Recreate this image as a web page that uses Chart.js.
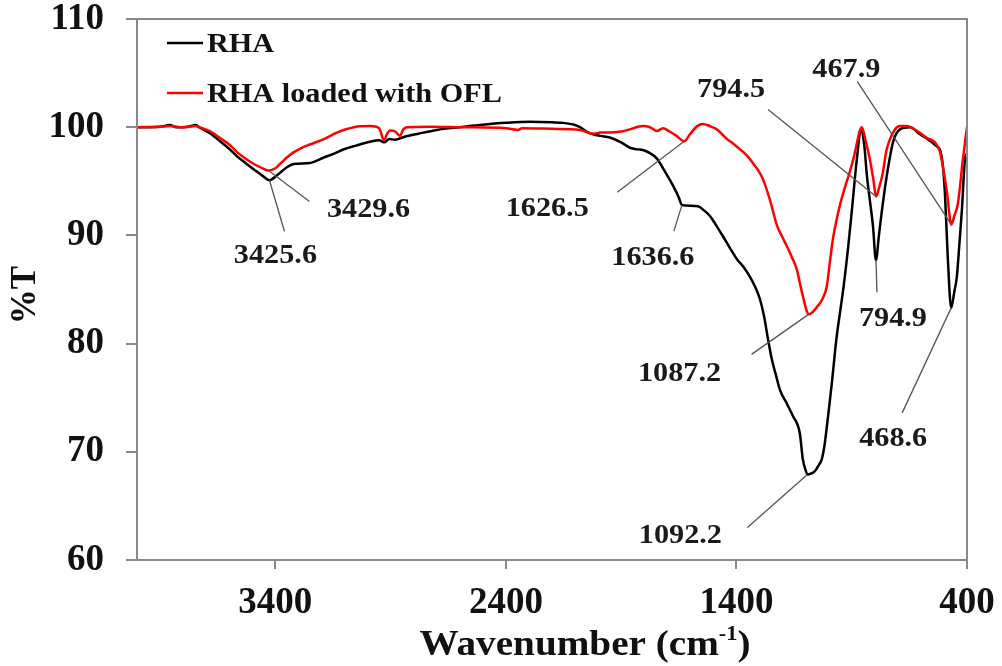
<!DOCTYPE html>
<html>
<head>
    <title>FTIR spectra</title>
    <script src="https://cdn.jsdelivr.net/npm/chart.js"></script>
    <style>
        body { margin: 0; background: #fff; }
        .chart-container { width: 1002px; height: 666px; }
    </style>
</head>
<body>
    <div class="chart-container">
        <canvas id="chartjs" width="1002" height="666"></canvas>
    </div>

    <script>
        // RHA spectrum: wavenumber (cm-1) and %T
        const rhaWave = [4000, 3900, 3857, 3830, 3780, 3744, 3731, 3680, 3640, 3600, 3566, 3530, 3493, 3455, 3425.6,
            3390, 3350, 3320, 3250, 3189, 3140, 3102, 3050, 2989, 2950, 2929, 2905, 2880, 2842, 2780, 2699, 2600,
            2512, 2400, 2296, 2200, 2152, 2100, 2079, 2050, 2022, 1990, 1949, 1900, 1862, 1830, 1806, 1775, 1745,
            1710, 1675, 1650, 1636.6, 1600, 1567, 1540, 1515, 1490, 1458, 1430, 1398, 1370, 1342, 1320, 1298, 1280,
            1263, 1246, 1230, 1211, 1180, 1155, 1125, 1112, 1100, 1092.2, 1075, 1060, 1045, 1030, 1018, 1008, 997,
            986, 966, 950, 935, 915, 899, 878, 860, 845, 834, 821, 808, 794.9, 782, 769, 748, 721, 691, 648, 604,
            570, 552, 530, 517, 505, 496, 483, 468.6, 455, 444, 432, 422, 409, 400];
        const rhaT = [100.0, 100.05, 100.2, 100.0, 100.05, 100.2, 100.0, 99.4, 98.7, 98.0, 97.3, 96.7, 96.1, 95.5, 95.1,
            95.6, 96.3, 96.6, 96.7, 97.2, 97.6, 97.96, 98.3, 98.65, 98.8, 98.6, 98.9, 98.85, 99.1, 99.4, 99.75, 100.0,
            100.2, 100.4, 100.5, 100.45, 100.4, 100.2, 100.0, 99.6, 99.35, 99.2, 99.05, 98.6, 98.1, 97.95, 97.9, 97.6, 97.1,
            95.9, 94.6, 93.5, 92.8, 92.75, 92.7, 92.3, 91.8, 91.0, 89.9, 88.9, 87.8, 87.1, 86.2, 85.3, 84.1, 82.5,
            80.4, 78.5, 77.2, 75.7, 74.4, 73.3, 71.7, 69.3, 68.3, 67.9, 68.0, 68.2, 68.7, 69.3, 70.6, 72.3, 74.3,
            76.4, 80.5, 83.0, 85.3, 89.0, 92.4, 97.0, 99.8, 98.2, 95.5, 93.2, 90.9, 87.7, 90.0, 92.3, 95.5, 98.6, 99.8, 100.0, 99.35,
            98.9, 98.6, 98.2, 97.9, 96.5, 94.0, 87.8, 83.3, 84.8, 86.2, 89.5, 92.4, 97.0, 97.6];

        // RHA loaded with OFL
        const oflWave = [4000, 3900, 3857, 3800, 3744, 3731, 3680, 3640, 3600, 3566, 3530, 3493, 3455, 3429.6, 3400,
            3380, 3350, 3320, 3285, 3250, 3189, 3133, 3059, 2989, 2950, 2929, 2915, 2903, 2880, 2860, 2845, 2829,
            2729, 2600, 2400, 2348, 2330, 2200, 2079, 2022, 1990, 1949, 1900, 1862, 1806, 1775, 1745, 1719, 1690,
            1660, 1626.5, 1600, 1570, 1545, 1515, 1485, 1460, 1441, 1415, 1385, 1355, 1329, 1305, 1285, 1255, 1224,
            1200, 1181, 1160, 1138, 1125, 1112, 1095, 1087.2, 1070, 1050, 1030, 1008, 995, 982, 966, 951, 930, 908,
            890, 878, 866, 856, 840, 821, 805, 794.5, 780, 765, 750, 734, 712, 691, 661, 617, 574, 539, 517, 500, 487, 467.9,
            455, 439, 418, 400];
        const oflT = [100.0, 100.05, 100.1, 100.0, 100.1, 100.0, 99.6, 99.0, 98.4, 97.7, 97.1, 96.6, 96.2, 96.0, 96.2,
            96.6, 97.2, 97.7, 98.1, 98.4, 98.9, 99.5, 100.0, 100.1, 99.9, 98.8, 99.4, 99.7, 99.6, 99.2, 99.8, 100.0,
            100.05, 100.0, 99.9, 99.75, 99.9, 99.85, 99.75, 99.4, 99.5, 99.5, 99.6, 99.8, 100.1, 100.0, 99.66, 99.9, 99.6,
            99.2, 98.7, 99.4, 100.1, 100.3, 100.1, 99.8, 99.3, 98.9, 98.5, 97.96, 97.4, 96.7, 96.0, 95.2, 93.3, 90.9,
            89.8, 89.0, 88.0, 86.85, 85.6, 84.4, 83.0, 82.7, 82.9, 83.4, 84.0, 85.3, 87.5, 89.6, 91.4, 92.8, 94.4, 95.9,
            97.3, 98.5, 99.6, 100.0, 98.8, 97.0, 95.0, 93.6, 94.5, 95.8, 97.8, 98.9, 99.8, 100.1, 100.1, 99.66, 99.0, 98.6, 97.7, 95.8, 94.0, 91.0,
            91.8, 93.0, 97.0, 100.0];

        const xTicks = [400, 1400, 2400, 3400];
        const yTicks = [60, 70, 80, 90, 100, 110];
        const seriesNames = ['RHA', 'RHA loaded with OFL'];

        // Peak labels: which series, peak wavenumber, leader line end and label centre (px offsets from the peak)
        const peakLabels = [
            { ds: 0, wave: 3425.6, line: [15, 51], text: [6, 76] },
            { ds: 1, wave: 3429.6, line: [41, 31], text: [100, 40] },
            { ds: 1, wave: 1626.5, line: [-67, 51], text: [-137, 68] },
            { ds: 0, wave: 1636.6, line: [-8, 26], text: [-29, 53] },
            { ds: 1, wave: 1087.2, line: [-57, 40], text: [-129, 60] },
            { ds: 0, wave: 1092.2, line: [-60, 53], text: [-127, 62] },
            { ds: 1, wave: 794.5, line: [-108, -87], text: [-145, -106] },
            { ds: 0, wave: 794.9, line: [1, 32], text: [17, 59] },
            { ds: 1, wave: 467.9, line: [-94, -143], text: [-105, -155] },
            { ds: 0, wave: 468.6, line: [-49, 105], text: [-58, 131] }
        ];

        const serif = "'Liberation Serif', 'Times New Roman', serif";
        const axisGray = '#8a8a8a';
        const stretch = 1.12; // text in this figure is set a little wide

        const toPoints = (xs, ys) => xs.map((x, i) => ({ x: x, y: ys[i] }));

        function wideText(ctx, text, x, y) {
            ctx.save();
            ctx.translate(x, y);
            ctx.scale(stretch, 1);
            ctx.fillText(text, 0, 0);
            ctx.restore();
        }

        // frame, legend, axis titles and peak labels
        const decorPlugin = {
            id: 'decor',
            afterDraw: (chart) => {
                const ctx = chart.ctx;
                const area = chart.chartArea;
                const xs = chart.scales.x;
                const ys = chart.scales.y;

                ctx.save();
                ctx.strokeStyle = axisGray;
                ctx.lineWidth = 2;
                ctx.strokeRect(area.left, area.top, area.right - area.left, area.bottom - area.top);

                // legend
                ctx.font = 'bold 27px ' + serif;
                ctx.textBaseline = 'middle';
                ctx.textAlign = 'left';
                chart.data.datasets.forEach((ds, i) => {
                    const y = area.top + 24 + i * 50;
                    ctx.strokeStyle = ds.borderColor;
                    ctx.lineWidth = 2.5;
                    ctx.beginPath();
                    ctx.moveTo(area.left + 30, y);
                    ctx.lineTo(area.left + 66, y);
                    ctx.stroke();
                    ctx.fillStyle = '#111';
                    wideText(ctx, ds.label, area.left + 70, y + 2);
                });

                // peak labels with leader lines
                peakLabels.forEach(p => {
                    const data = chart.data.datasets[p.ds].data;
                    const pt = data.find(d => d.x === p.wave);
                    const px = xs.getPixelForValue(pt.x);
                    const py = ys.getPixelForValue(pt.y);
                    ctx.strokeStyle = '#555';
                    ctx.lineWidth = 1.3;
                    ctx.beginPath();
                    ctx.moveTo(px, py);
                    ctx.lineTo(px + p.line[0], py + p.line[1]);
                    ctx.stroke();
                    ctx.fillStyle = '#1a1a1a';
                    ctx.font = 'bold 27px ' + serif;
                    ctx.textAlign = 'center';
                    wideText(ctx, p.wave.toFixed(1), px + p.text[0], py + p.text[1]);
                });

                // axis titles
                ctx.fillStyle = '#111';
                ctx.textAlign = 'left';
                ctx.textBaseline = 'alphabetic';
                const main = 'Wavenumber (cm';
                const sup = '-1';
                ctx.font = 'bold 35px ' + serif;
                const wMain = ctx.measureText(main).width * stretch;
                ctx.font = 'bold 20px ' + serif;
                const wSup = ctx.measureText(sup).width * stretch;
                ctx.font = 'bold 35px ' + serif;
                const wClose = ctx.measureText(')').width * stretch;
                let tx = 585 - (wMain + wSup + wClose) / 2;
                const ty = 655;
                wideText(ctx, main, tx, ty);
                tx += wMain;
                ctx.font = 'bold 20px ' + serif;
                wideText(ctx, sup, tx, ty - 15);
                tx += wSup;
                ctx.font = 'bold 35px ' + serif;
                wideText(ctx, ')', tx, ty);

                ctx.translate(26, 295);
                ctx.rotate(-Math.PI / 2);
                ctx.textAlign = 'center';
                ctx.textBaseline = 'middle';
                ctx.fillText('%T', 0, 0);
                ctx.restore();
            }
        };

        const ctx = document.getElementById('chartjs').getContext('2d');

        new Chart(ctx, {
            type: 'line',
            data: {
                datasets: [{
                    label: seriesNames[0],
                    data: toPoints(rhaWave, rhaT),
                    borderColor: '#000000',
                    borderWidth: 2.5,
                    pointRadius: 0,
                    cubicInterpolationMode: 'monotone',
                    order: 1
                },
                {
                    label: seriesNames[1],
                    data: toPoints(oflWave, oflT),
                    borderColor: '#ff0000',
                    borderWidth: 2.5,
                    pointRadius: 0,
                    cubicInterpolationMode: 'monotone',
                    order: 0
                }]
            },
            plugins: [decorPlugin],
            options: {
                responsive: false,
                animation: false,
                layout: {
                    padding: { top: 19, right: 35, left: 0, bottom: 0 }
                },
                scales: {
                    x: {
                        type: 'linear',
                        reverse: true,
                        min: 400,
                        max: 4000,
                        afterBuildTicks: (axis) => {
                            axis.ticks = xTicks.map(v => ({ value: v }));
                        },
                        afterFit: (axis) => {
                            axis.height = 106;
                            axis.paddingLeft = 0;
                            axis.paddingRight = 0;
                        },
                        ticks: {
                            color: '#111',
                            padding: 12,
                            maxRotation: 0,
                            font: { family: serif, size: 37, weight: 'bold' },
                            callback: (value) => String(value)
                        },
                        grid: {
                            drawOnChartArea: false,
                            tickLength: 9,
                            color: axisGray,
                            lineWidth: 2
                        },
                        border: { color: axisGray, width: 2 }
                    },
                    y: {
                        min: 60,
                        max: 110,
                        afterBuildTicks: (axis) => {
                            axis.ticks = yTicks.map(v => ({ value: v }));
                        },
                        afterFit: (axis) => {
                            axis.width = 137;
                            axis.paddingTop = 0;
                            axis.paddingBottom = 0;
                        },
                        ticks: {
                            color: '#111',
                            padding: 22,
                            font: { family: serif, size: 37, weight: 'bold' }
                        },
                        grid: {
                            drawOnChartArea: false,
                            tickLength: 11,
                            color: axisGray,
                            lineWidth: 2
                        },
                        border: { color: axisGray, width: 2 }
                    }
                },
                plugins: {
                    legend: { display: false },
                    tooltip: { enabled: false }
                }
            }
        });
    </script>
</body>
</html>
